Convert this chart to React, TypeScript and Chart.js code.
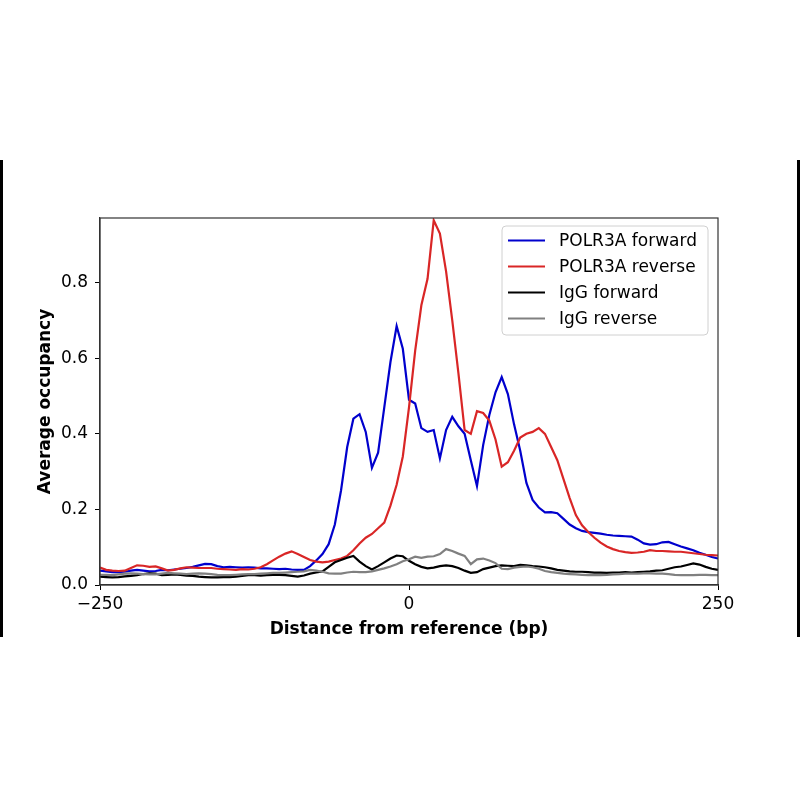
import { useEffect, useRef } from 'react';
import { Chart, ChartConfiguration, Plugin, registerables } from 'chart.js';

Chart.register(...registerables);

// distance from reference (bp), one sample every 5 bp
const positions = [
  -250, -245, -240, -235, -230, -225, -220, -215, -210, -205,
  -200, -195, -190, -185, -180, -175, -170, -165, -160, -155,
  -150, -145, -140, -135, -130, -125, -120, -115, -110, -105,
  -100, -95, -90, -85, -80, -75, -70, -65, -60, -55,
  -50, -45, -40, -35, -30, -25, -20, -15, -10, -5,
  0, 5, 10, 15, 20, 25, 30, 35, 40, 45,
  50, 55, 60, 65, 70, 75, 80, 85, 90, 95,
  100, 105, 110, 115, 120, 125, 130, 135, 140, 145,
  150, 155, 160, 165, 170, 175, 180, 185, 190, 195,
  200, 205, 210, 215, 220, 225, 230, 235, 240, 245,
  250,
];

const polr3aForward = [
  0.038, 0.036, 0.034, 0.034, 0.035, 0.038, 0.040, 0.038, 0.036, 0.037,
  0.040, 0.039, 0.041, 0.043, 0.045, 0.048, 0.052, 0.056, 0.055, 0.050,
  0.047, 0.048, 0.047, 0.046, 0.047, 0.046, 0.044, 0.044, 0.043, 0.042,
  0.043, 0.041, 0.040, 0.040, 0.050, 0.065, 0.082, 0.108, 0.160, 0.250,
  0.365, 0.440, 0.452, 0.405, 0.310, 0.350, 0.470, 0.590, 0.685, 0.625,
  0.490, 0.480, 0.415, 0.405, 0.410, 0.335, 0.410, 0.445, 0.420, 0.400,
  0.330, 0.262, 0.370, 0.450, 0.510, 0.550, 0.505, 0.425, 0.355, 0.270,
  0.225, 0.205, 0.192, 0.193, 0.190, 0.175, 0.160, 0.150, 0.143, 0.140,
  0.138, 0.136, 0.133, 0.131, 0.130, 0.129, 0.128, 0.120, 0.110, 0.107,
  0.108, 0.113, 0.114, 0.108, 0.102, 0.097, 0.092, 0.085, 0.080, 0.074,
  0.070,
];

const polr3aReverse = [
  0.046, 0.040, 0.038, 0.037, 0.038, 0.045, 0.052, 0.051, 0.048, 0.049,
  0.044, 0.038, 0.040, 0.044, 0.047, 0.046, 0.045, 0.045, 0.045, 0.043,
  0.042, 0.041, 0.040, 0.042, 0.041, 0.043, 0.047, 0.055, 0.065, 0.075,
  0.083, 0.089, 0.082, 0.074, 0.066, 0.062, 0.060, 0.062, 0.066, 0.070,
  0.077, 0.092, 0.110, 0.125, 0.135, 0.150, 0.165, 0.210, 0.265, 0.340,
  0.470, 0.620, 0.740, 0.810, 0.965, 0.930, 0.830, 0.700, 0.560, 0.410,
  0.400, 0.460, 0.455, 0.435, 0.385, 0.313, 0.325, 0.355, 0.390, 0.400,
  0.405, 0.415, 0.400, 0.365, 0.330, 0.280, 0.230, 0.185, 0.158, 0.140,
  0.125, 0.112, 0.102, 0.095, 0.090, 0.087, 0.085, 0.086, 0.088, 0.092,
  0.090, 0.090, 0.089, 0.088, 0.088, 0.086, 0.084, 0.082, 0.080, 0.079,
  0.078,
];

const iggForward = [
  0.022, 0.021, 0.020, 0.021, 0.023, 0.024, 0.026, 0.029, 0.031, 0.030,
  0.026, 0.027, 0.028, 0.027, 0.025, 0.024, 0.022, 0.021, 0.020, 0.020,
  0.021, 0.021, 0.022, 0.024, 0.026, 0.026, 0.025, 0.026, 0.027, 0.027,
  0.026, 0.024, 0.022, 0.025, 0.030, 0.033, 0.036, 0.048, 0.060, 0.066,
  0.072, 0.077, 0.062, 0.050, 0.041, 0.050, 0.060, 0.070, 0.078, 0.076,
  0.064, 0.055, 0.048, 0.044, 0.046, 0.050, 0.052, 0.050, 0.045, 0.038,
  0.032, 0.034, 0.042, 0.046, 0.050, 0.052, 0.051, 0.050, 0.053, 0.052,
  0.050, 0.049, 0.047, 0.044, 0.040, 0.038, 0.036, 0.035, 0.035, 0.034,
  0.033, 0.033, 0.032, 0.033, 0.033, 0.034, 0.033, 0.034, 0.035, 0.036,
  0.038, 0.039, 0.043, 0.047, 0.049, 0.053, 0.057, 0.054, 0.048, 0.043,
  0.040,
];

const iggReverse = [
  0.027, 0.027, 0.026, 0.028, 0.030, 0.031, 0.030, 0.029, 0.028, 0.028,
  0.030, 0.032, 0.031, 0.030, 0.029, 0.030, 0.031, 0.030, 0.029, 0.027,
  0.026, 0.026, 0.027, 0.028, 0.029, 0.029, 0.030, 0.031, 0.032, 0.032,
  0.033, 0.034, 0.035, 0.036, 0.040, 0.038, 0.035, 0.031, 0.030, 0.030,
  0.033, 0.035, 0.034, 0.034, 0.036, 0.040, 0.044, 0.049, 0.055, 0.063,
  0.068, 0.075, 0.072, 0.075, 0.076, 0.082, 0.095, 0.090, 0.083, 0.077,
  0.055, 0.068, 0.070, 0.065, 0.058, 0.043, 0.042, 0.046, 0.048, 0.049,
  0.047, 0.043, 0.037, 0.034, 0.032, 0.030, 0.029, 0.028, 0.027, 0.026,
  0.026, 0.026, 0.027, 0.028, 0.029, 0.030, 0.030, 0.030, 0.031, 0.031,
  0.030, 0.030, 0.029, 0.027, 0.026, 0.026, 0.026, 0.027, 0.027, 0.026,
  0.026,
];

const seriesNames = ['POLR3A forward', 'POLR3A reverse', 'IgG forward', 'IgG reverse'];
const seriesColors = ['#0000cd', '#d92626', '#000000', '#808080'];

const xTicks = [-250, 0, 250];
const yTicks = [0, 0.2, 0.4, 0.6, 0.8];

const FONT = "'DejaVu Sans', sans-serif";

// top/right spines plus a matplotlib-style framed legend
const framePlugin: Plugin<'line'> = {
  id: 'frame',
  afterDraw(chart) {
    const { ctx, chartArea } = chart;
    ctx.save();
    ctx.strokeStyle = '#333';
    ctx.lineWidth = 1.2;
    ctx.strokeRect(chartArea.left, chartArea.top, chartArea.right - chartArea.left, chartArea.bottom - chartArea.top);

    const bx = 502, by = 226, bw = 206, bh = 109;
    ctx.beginPath();
    ctx.roundRect(bx, by, bw, bh, 4);
    ctx.fillStyle = 'rgba(255,255,255,0.8)';
    ctx.fill();
    ctx.strokeStyle = '#d0d0d0';
    ctx.lineWidth = 1;
    ctx.stroke();

    ctx.font = `17px ${FONT}`;
    ctx.textBaseline = 'middle';
    ctx.textAlign = 'left';
    chart.data.datasets.forEach((ds, i) => {
      const y = 240.5 + i * 26;
      ctx.beginPath();
      ctx.moveTo(508, y);
      ctx.lineTo(545, y);
      ctx.strokeStyle = ds.borderColor as string;
      ctx.lineWidth = 2.2;
      ctx.stroke();
      ctx.fillStyle = '#000';
      ctx.fillText(ds.label ?? '', 559, y + 1);
    });
    ctx.restore();
  },
};

export default function App() {
  const canvasRef = useRef<HTMLCanvasElement>(null);
  const chartRef = useRef<Chart | null>(null);

  useEffect(() => {
    if (!canvasRef.current) return;
    const ctx = canvasRef.current.getContext('2d');
    if (!ctx) return;

    const values = [polr3aForward, polr3aReverse, iggForward, iggReverse];

    const config: ChartConfiguration<'line'> = {
      type: 'line',
      data: {
        datasets: values.map((vals, i) => ({
          label: seriesNames[i],
          data: positions.map((x, j) => ({ x, y: vals[j] })),
          borderColor: seriesColors[i],
          backgroundColor: seriesColors[i],
          borderWidth: 2.2,
          pointRadius: 0,
          tension: 0,
          fill: false,
          order: 4 - i,
        })),
      },
      options: {
        responsive: false,
        animation: false,
        layout: { padding: { left: 30, right: 82, top: 218, bottom: 155 } },
        scales: {
          x: {
            type: 'linear',
            min: -250,
            max: 250,
            afterFit: (scale) => { scale.height = 60; },
            afterBuildTicks: (scale) => { scale.ticks = xTicks.map(value => ({ value })); },
            grid: { drawOnChartArea: false, drawTicks: true, tickLength: 5, color: '#000' },
            border: { display: true, color: '#333', width: 1.2 },
            ticks: {
              padding: 4,
              maxRotation: 0,
              color: '#000',
              font: { family: FONT, size: 17 },
              callback: (v) => (Number(v) < 0 ? '\u2212' + Math.abs(Number(v)) : String(v)),
            },
            title: {
              display: true,
              text: 'Distance from reference (bp)',
              color: '#000',
              font: { family: FONT, size: 17, weight: 'bold' },
              padding: { top: 0, bottom: 5 },
            },
          },
          y: {
            min: 0,
            max: 0.971,
            afterFit: (scale) => { scale.width = 70; },
            afterBuildTicks: (scale) => { scale.ticks = yTicks.map(value => ({ value })); },
            grid: { drawOnChartArea: false, drawTicks: true, tickLength: 5, color: '#000' },
            border: { display: true, color: '#333', width: 1.2 },
            ticks: {
              padding: 7,
              color: '#000',
              font: { family: FONT, size: 17 },
              callback: (v) => Number(v).toFixed(1),
            },
            title: {
              display: true,
              text: 'Average occupancy',
              color: '#000',
              font: { family: FONT, size: 17, weight: 'bold' },
              padding: { top: 5, bottom: 0 },
            },
          },
        },
        plugins: {
          legend: { display: false },
          tooltip: { enabled: false },
        },
      },
      plugins: [framePlugin],
    };

    chartRef.current?.destroy();
    chartRef.current = new Chart(ctx, config);

    return () => {
      chartRef.current?.destroy();
      chartRef.current = null;
    };
  }, []);

  return (
    <div style={{ position: 'absolute', left: 0, top: 0, width: 800, height: 800, background: '#fff' }}>
      <canvas ref={canvasRef} width={800} height={800} style={{ position: 'absolute', left: 0, top: 0, width: 800, height: 800 }} />
      <div style={{ position: 'absolute', left: 0, top: 160, width: 3, height: 477, background: '#000' }} />
      <div style={{ position: 'absolute', left: 797, top: 160, width: 3, height: 477, background: '#000' }} />
    </div>
  );
}
